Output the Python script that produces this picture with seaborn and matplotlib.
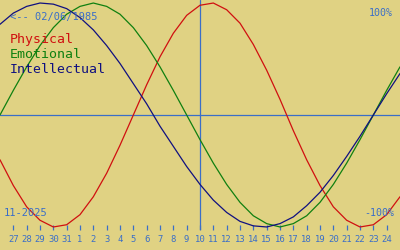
import matplotlib
matplotlib.use("Agg")
import matplotlib.pyplot as plt
import seaborn as sns
import pandas as pd

# ---- data ----
dates = pd.date_range("2025-10-26", "2025-11-25", freq="D")
today = pd.Timestamp("2025-11-10")

physical = [-0.40, -0.63, -0.82, -0.94, -1.00, -0.98, -0.89, -0.73, -0.52, -0.27,
            0.00, 0.27, 0.52, 0.73, 0.89, 0.98, 1.00, 0.94, 0.82, 0.63,
            0.40, 0.14, -0.14, -0.40, -0.63, -0.82, -0.94, -1.00, -0.98, -0.89, -0.73]
emotional = [0.00, 0.22, 0.43, 0.62, 0.78, 0.90, 0.97, 1.00, 0.97, 0.90,
             0.78, 0.62, 0.43, 0.22, 0.00, -0.22, -0.43, -0.62, -0.78, -0.90,
             -0.97, -1.00, -0.97, -0.90, -0.78, -0.62, -0.43, -0.22, 0.00, 0.22, 0.43]
intellectual = [0.81, 0.91, 0.97, 1.00, 0.99, 0.95, 0.87, 0.76, 0.62, 0.46,
                0.28, 0.10, -0.10, -0.28, -0.46, -0.62, -0.76, -0.87, -0.95, -0.99,
                -1.00, -0.97, -0.91, -0.81, -0.69, -0.54, -0.37, -0.19, 0.00, 0.19, 0.37]

series_names = ["Physical", "Emotional", "Intellectual"]
series_colors = ["#d01010", "#108010", "#101080"]
tick_dates = dates[1:-1]
tick_labels = [str(d.day) for d in tick_dates]
birth_label = "<-- 02/06/1985"
month_label = "11-2025"
top_label = "100%"
bottom_label = "-100%"

# ---- styling ----
bg = "#e0d283"
accent = "#3a6ec8"
sns.set_theme(style="white")
plt.rcParams["font.family"] = ["DejaVu Sans Mono", "DejaVu Sans"]

df = pd.DataFrame({
    "date": list(dates) * 3,
    "value": physical + emotional + intellectual,
    "series": sum([[n] * len(dates) for n in series_names], []),
})

fig = plt.figure(figsize=(4, 2.5), dpi=100, facecolor=bg)
ax = fig.add_axes([0, 20 / 250, 1, 230 / 250])
ax.set_facecolor(bg)

ax.axhline(0, color=accent, lw=0.9, zorder=1)
ax.axvline(today, color=accent, lw=0.9, zorder=1)

sns.lineplot(data=df, x="date", y="value", hue="series", hue_order=series_names,
             palette=series_colors, lw=0.9, legend=False, ax=ax, zorder=2)

ax.set_xlim(dates[0], dates[-1])
ax.set_ylim(-1.027, 1.027)
ax.set_yticks([])
ax.set_xticks(tick_dates)
ax.set_xticklabels(tick_labels)
ax.tick_params(axis="x", direction="in", length=3.6, width=0.9, color=accent,
               labelcolor=accent, labelsize=6.4, pad=3.4, bottom=True)
ax.set_xlabel("")
ax.set_ylabel("")
for s in ax.spines.values():
    s.set_visible(False)

ax.text(0.025, 0.913, birth_label, transform=ax.transAxes, color=accent,
        fontsize=7.5, va="baseline", ha="left")
for i, (n, c) in enumerate(zip(series_names, series_colors)):
    ax.text(0.025, 0.813 - i * 0.065, n, transform=ax.transAxes, color=c,
            fontsize=9.5, va="baseline", ha="left")
ax.text(0.983, 0.93, top_label, transform=ax.transAxes, color=accent,
        fontsize=7.2, va="baseline", ha="right")
ax.text(0.985, 0.061, bottom_label, transform=ax.transAxes, color=accent,
        fontsize=7.2, va="baseline", ha="right")
ax.text(0.01, 0.061, month_label, transform=ax.transAxes, color=accent,
        fontsize=7.5, va="baseline", ha="left")

fig.savefig("out.png", dpi=100, facecolor=bg)
